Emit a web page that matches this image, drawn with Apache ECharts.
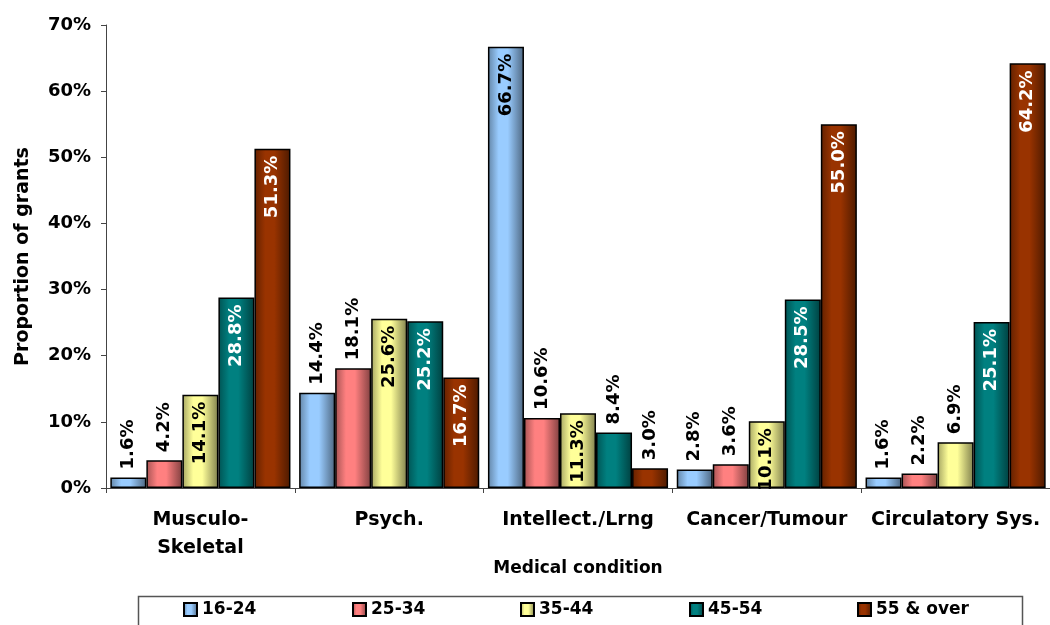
<!DOCTYPE html>
<html>
<head>
<meta charset="utf-8">
<script src="https://cdn.jsdelivr.net/npm/echarts@6/dist/echarts.min.js"></script>
<style>html,body{margin:0;padding:0;background:#fff}#c{width:1050px;height:625px}</style>
</head>
<body>
<div id="c"></div>
<script>
const categories = ['Musculo-\nSkeletal', 'Psych.', 'Intellect./Lrng', 'Cancer/Tumour', 'Circulatory Sys.'];
const seriesNames = ['16-24', '25-34', '35-44', '45-54', '55 & over'];
const s16_24 = [1.6, 14.4, 66.7, 2.8, 1.6];
const s25_34 = [4.2, 18.1, 10.6, 3.6, 2.2];
const s35_44 = [14.1, 25.6, 11.3, 10.1, 6.9];
const s45_54 = [28.8, 25.2, 8.4, 28.5, 25.1];
const s55_over = [51.3, 16.7, 3.0, 55.0, 64.2];
const yMin = 0, yMax = 70, yStep = 10;

const allValues = [s16_24, s25_34, s35_44, s45_54, s55_over];
const baseColors = ['#99CCFF', '#FF8080', '#FFFF99', '#008080', '#993300'];
const insideTextColors = ['#000', '#000', '#000', '#fff', '#fff'];
const FONT = 'DejaVu Sans';

function shade(hex, f) {
  const n = parseInt(hex.slice(1), 16);
  const r = Math.round(((n >> 16) & 255) * f), g = Math.round(((n >> 8) & 255) * f), b = Math.round((n & 255) * f);
  return 'rgb(' + r + ',' + g + ',' + b + ')';
}
function grad(hex) {
  return { type: 'linear', x: 0, y: 0, x2: 1, y2: 0, colorStops: [
    { offset: 0, color: shade(hex, 0.65) },
    { offset: 0.3, color: hex },
    { offset: 0.55, color: hex },
    { offset: 1, color: shade(hex, 0.5) }
  ]};
}

const series = allValues.map((vals, si) => ({
  name: seriesNames[si],
  type: 'bar',
  barGap: '0%',
  barCategoryGap: '4.6%',
  itemStyle: { color: grad(baseColors[si]), borderColor: '#000', borderWidth: 1.5 },
  data: vals.map(v => {
    const inside = v >= 10 && (si >= 2 || v > 40);
    return {
      value: v,
      label: inside ? {
        show: true, position: 'insideTop', rotate: 90, align: 'right', verticalAlign: 'middle',
        distance: 7, color: insideTextColors[si]
      } : {
        show: true, position: 'top', rotate: 90, align: 'left', verticalAlign: 'middle',
        distance: 8, color: '#000'
      }
    };
  }),
  label: {
    fontFamily: FONT, fontWeight: 'bold', fontSize: 18,
    formatter: p => p.value.toFixed(1) + '%'
  }
}));

const legendLefts = [183, 352, 520, 689, 857];
const legends = seriesNames.map((n, i) => ({
  data: [n],
  left: legendLefts[i], top: 601,
  padding: 0,
  itemWidth: 13, itemHeight: 13, itemGap: 0,
  icon: 'rect',
  textStyle: { fontFamily: FONT, fontWeight: 'bold', fontSize: 17, color: '#000' }
}));

const chart = echarts.init(document.getElementById('c'), null, { renderer: 'canvas' });
chart.setOption({
  animation: false,
  backgroundColor: '#fff',
  grid: { left: 106, top: 25, width: 951, height: 463, containLabel: false },
  legend: legends,
  graphic: [{
    type: 'rect', left: 136, top: 594, silent: true,
    shape: { width: 884, height: 45 },
    style: { fill: 'none', stroke: '#555', lineWidth: 1.5 }
  }],
  xAxis: {
    type: 'category',
    data: categories,
    name: 'Medical condition',
    nameLocation: 'middle',
    nameGap: 72,
    nameMoveOverlap: false,
    nameTextStyle: { fontFamily: FONT, fontWeight: 'bold', fontSize: 17, color: '#000' },
    axisLine: { lineStyle: { color: '#444', width: 1 } },
    axisTick: { show: true, length: 5, alignWithLabel: false, lineStyle: { color: '#444' } },
    axisLabel: { fontFamily: FONT, fontWeight: 'bold', fontSize: 19, color: '#000', margin: 18, lineHeight: 28, interval: 0 },
    splitLine: { show: false }
  },
  yAxis: {
    type: 'value',
    min: yMin, max: yMax, interval: yStep,
    name: 'Proportion of grants',
    nameLocation: 'middle',
    nameGap: 73,
    nameMoveOverlap: false,
    nameTextStyle: { fontFamily: FONT, fontWeight: 'bold', fontSize: 19, color: '#000' },
    axisLine: { show: true, lineStyle: { color: '#444', width: 1 } },
    axisTick: { show: true, length: 5, lineStyle: { color: '#444' } },
    axisLabel: { fontFamily: FONT, fontWeight: 'bold', fontSize: 18, color: '#000', margin: 15, formatter: '{value}%' },
    splitLine: { show: false }
  },
  series: series
});
</script>
</body>
</html>
